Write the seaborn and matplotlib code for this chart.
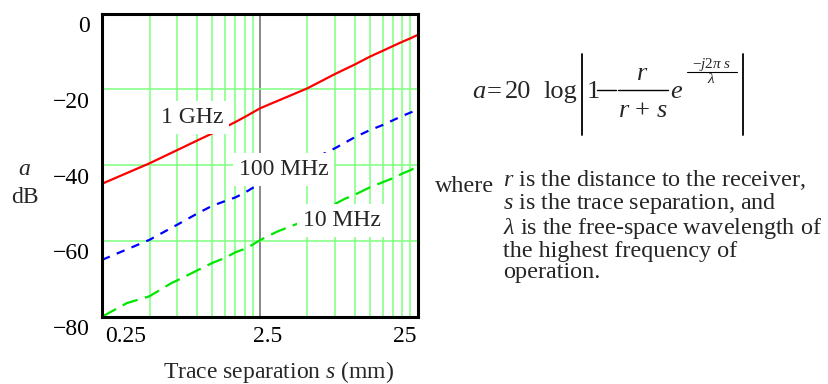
import matplotlib
matplotlib.use("Agg")
import numpy as np
import pandas as pd
import seaborn as sns
import matplotlib.pyplot as plt
from matplotlib.transforms import ScaledTranslation
from matplotlib.lines import Line2D
from matplotlib.ticker import NullFormatter, FixedLocator

# ---------------- data ----------------
sep_1ghz = [0.25, 0.5, 0.75, 1.0, 1.25, 1.5, 1.75, 2.0, 2.25, 2.5,
            5, 7.5, 10, 12.5, 15, 17.5, 20, 22.5, 25]
att_1ghz = [-44.9, -39.5, -36.0, -33.5, -31.6, -30.0, -28.6, -27.3, -26.1, -25.0,
            -19.7, -15.9, -13.4, -11.3, -9.8, -8.5, -7.4, -6.5, -5.6]

sep_100mhz = [0.25, 0.5, 0.75, 1.0, 1.25, 1.5, 1.75, 2.0, 2.25, 2.5,
              7.5, 10, 12.5, 15, 17.5, 20, 22.5, 25]
att_100mhz = [-65.0, -59.7, -55.7, -52.8, -50.7, -49.5, -48.5, -47.3, -46.0, -45.2,
              -35.5, -32.6, -30.7, -29.4, -28.1, -27.0, -26.1, -25.4]

sep_10mhz = [0.25, 0.36, 0.5, 0.69, 0.75, 1.0, 1.25, 1.5, 1.75, 2.0, 2.25, 2.5,
             3.23, 4.55, 8.6, 10, 12.5, 15, 17.5, 20, 22.5, 25]
att_10mhz = [-80.0, -76.4, -74.6, -71.1, -70.4, -67.8, -65.8, -64.5, -63.0, -62.1, -61.0, -59.8,
             -57.5, -55.1, -48.9, -47.8, -45.8, -44.5, -43.4, -42.2, -41.3, -40.3]

x_ticks = [0.25, 2.5, 25]
x_ticklabels = ["0.25", "2.5", "25"]
x_minor = [0.5, 0.75, 1.0, 1.25, 1.5, 1.75, 2.0, 2.25, 5, 7.5, 10, 12.5, 15, 17.5, 20, 22.5]
y_ticks = [-80, -60, -40, -20, 0]
y_ticklabels = ["\u221280", "\u221260", "\u221240", "\u221220", "0"]

curve_labels = ["1 GHz", "100 MHz", "10 MHz"]

# ---------------- style ----------------
sns.set_theme(style="white")
plt.rcParams["font.family"] = ["Liberation Serif", "DejaVu Serif"]
plt.rcParams["mathtext.fontset"] = "custom"
plt.rcParams["mathtext.rm"] = "Liberation Serif"
plt.rcParams["mathtext.it"] = "Liberation Serif:italic"
plt.rcParams["axes.unicode_minus"] = True

W, H = 829, 384
fig = plt.figure(figsize=(W / 100, H / 100), dpi=100)
fig.patch.set_facecolor("white")

def fx(px):
    return px / W

def fy(py):
    return 1 - py / H

L, R, T, B = 102, 417.7, 13.7, 316.7
ax = fig.add_axes([fx(L), fy(B), fx(R) - fx(L), (B - T) / H])
ax.set_facecolor("white")

GRID = "#88ff88"
sns.lineplot(x=sep_1ghz, y=att_1ghz, ax=ax, color="#ff0000", lw=1.6,
             estimator=None, sort=False, zorder=3)
sns.lineplot(x=sep_100mhz, y=att_100mhz, ax=ax, color="#0000ff", lw=1.6,
             estimator=None, sort=False, zorder=3, linestyle=(0, (3.8, 3.4)))
sns.lineplot(x=sep_10mhz, y=att_10mhz, ax=ax, color="#00e600", lw=1.6,
             estimator=None, sort=False, zorder=3, linestyle=(0, (7.2, 3.4)))

ax.set_xscale("log")
ax.set_xlim(0.25, 25)
ax.set_ylim(-80, 0)
ax.xaxis.set_major_locator(FixedLocator(x_ticks))
ax.xaxis.set_minor_locator(FixedLocator(x_minor))
ax.set_xticklabels(x_ticklabels)
ax.xaxis.set_minor_formatter(NullFormatter())
ax.set_yticks(y_ticks)
ax.set_yticklabels(y_ticklabels)
ax.tick_params(which="both", length=0, labelsize=17, colors="black")
ax.tick_params(axis="y", pad=9)
ax.tick_params(axis="x", pad=7)
ax.grid(which="minor", axis="x", color=GRID, lw=1.2, zorder=1)
ax.grid(which="major", axis="x", color="#808080", lw=1.3, zorder=1)
ax.grid(which="major", axis="y", color=GRID, lw=1.2, zorder=1)
ax.set_axisbelow(True)
for s in ax.spines.values():
    s.set_visible(True)
    s.set_color("black")
    s.set_linewidth(2.2)
    s.set_zorder(5)
ax.set_xlabel("")
ax.set_ylabel("")

# tick label offsets (labels sit below their grid lines in the reference)
dy = ScaledTranslation(0, -10.5 / 100, fig.dpi_scale_trans)
for lab in ax.get_yticklabels():
    lab.set_transform(lab.get_transform() + dy)
xl = ax.get_xticklabels()
xl[0].set_ha("left")
xl[0].set_transform(xl[0].get_transform() + ScaledTranslation(3 / 100, 0, fig.dpi_scale_trans))
xl[1].set_transform(xl[1].get_transform() + ScaledTranslation(7.4 / 100, 0, fig.dpi_scale_trans))
xl[2].set_ha("right")
xl[2].set_transform(xl[2].get_transform() + ScaledTranslation(-1 / 100, 0, fig.dpi_scale_trans))

# curve labels with white boxes
box = dict(facecolor="white", edgecolor="none", pad=4.5)
ax.text(0.925, -28.9, curve_labels[0], fontsize=17, ha="center", va="baseline", bbox=box, zorder=6)
ax.text(3.53, -42.6, curve_labels[1], fontsize=17, ha="center", va="baseline", bbox=box, zorder=6)
ax.text(8.27, -56.05, curve_labels[2], fontsize=17, ha="center", va="baseline", bbox=box, zorder=6)

# axis titles
fig.text(fx(278.3), fy(378), r"Trace separation $s$ (mm)", fontsize=17, ha="center", va="baseline")
fig.text(fx(24.7), fy(175), r"$a$", fontsize=17, ha="center", va="baseline")
fig.text(fx(24.5), fy(203), "dB", fontsize=17, ha="center", va="baseline")

# formula
FS = 19
def line(x0, y0, x1, y1, lw):
    fig.add_artist(Line2D([fx(x0), fx(x1)], [fy(y0), fy(y1)], color="black", lw=lw,
                          transform=fig.transFigure))

fig.text(fx(471.7), fy(98.3), r"$a$", fontsize=FS, ha="left", va="baseline")
fig.text(fx(494), fy(98.3), "=", fontsize=FS, ha="center", va="baseline")
fig.text(fx(504.5), fy(98.3), "20", fontsize=FS, ha="left", va="baseline")
fig.text(fx(543), fy(98.3), "log", fontsize=FS, ha="left", va="baseline")
line(582.3, 54, 582.3, 135, 1.3)
line(742.7, 54, 742.7, 135, 1.3)
fig.text(fx(586.5), fy(98.3), "1", fontsize=FS, ha="left", va="baseline")
line(597.5, 90, 616, 90, 1.0)
line(618.5, 90, 668.3, 90, 1.0)
fig.text(fx(641.7), fy(80), r"$r$", fontsize=FS, ha="center", va="baseline")
fig.text(fx(643.3), fy(116.7), r"$r$ + $s$", fontsize=FS, ha="center", va="baseline")
fig.text(fx(670), fy(98.3), r"$e$", fontsize=FS, ha="left", va="baseline")
fig.text(fx(711.7), fy(68.3), "\u2212" + r"$j$2$\pi$ $s$", fontsize=11, ha="center", va="baseline")
line(686.7, 71.5, 736.7, 71.5, 0.8)
fig.text(fx(711), fy(83.3), r"$\lambda$", fontsize=11, ha="center", va="baseline")

# explanation text
fig.text(fx(435), fy(191.7), "where", fontsize=17.4, ha="left", va="baseline")
explain = "\n".join([
    r"$r$ is the distance to the receiver,",
    r"$s$ is the trace separation, and",
    r"$\lambda$ is the free-space wavelength of",
    "the highest frequency of",
    "operation.",
])
fig.text(fx(503.3), fy(278), explain, fontsize=17.4, ha="left", va="baseline",
         linespacing=0.99, multialignment="left")

fig.savefig("out.png", dpi=100, facecolor="white")
